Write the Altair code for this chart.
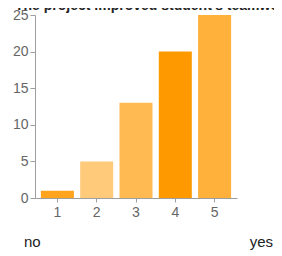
import altair as alt
import pandas as pd

ratings = ["1", "2", "3", "4", "5"]
counts = [1, 5, 13, 20, 25]
bar_colors = ["#FFA41C", "#FFCA7A", "#FFBA52", "#FF9900", "#FFB13B"]
y_ticks = [0, 5, 10, 15, 20, 25]
title_text = "The project improved student's teamwork"
end_labels = ["no", "yes"]

FONT = "Liberation Sans"

df = pd.DataFrame({"rating": ratings, "count": counts, "color": bar_colors})

bars = alt.Chart(df).mark_bar().encode(
    x=alt.X(
        "rating:O",
        sort=ratings,
        scale=alt.Scale(paddingInner=0.16, paddingOuter=0.15),
        axis=alt.Axis(title=None, labelAngle=0, tickSize=4, labelPadding=3),
    ),
    y=alt.Y(
        "count:Q",
        scale=alt.Scale(domain=[0, 25], nice=False),
        axis=alt.Axis(values=y_ticks, title=None, grid=False, tickSize=5, labelPadding=2),
    ),
    color=alt.Color("color:N", scale=None),
)

title = alt.Chart(pd.DataFrame({"t": [title_text]})).mark_text(
    align="left", baseline="alphabetic", fontSize=14, fontWeight="bold",
    color="#222222", font=FONT,
).encode(x=alt.value(-20), y=alt.value(-5), text="t:N")

no_lbl = alt.Chart(pd.DataFrame({"t": [end_labels[0]]})).mark_text(
    align="left", baseline="middle", fontSize=15, color="#222222", font=FONT,
).encode(x=alt.value(-11), y=alt.value(227), text="t:N")

yes_lbl = alt.Chart(pd.DataFrame({"t": [end_labels[1]]})).mark_text(
    align="right", baseline="middle", fontSize=15, color="#222222", font=FONT,
).encode(x=alt.value(238), y=alt.value(227), text="t:N")

chart = alt.layer(bars, title, no_lbl, yes_lbl).properties(
    width=202,
    height=183,
    autosize=alt.AutoSizeParams(type="none"),
    padding={"left": 27, "top": 7, "right": 37, "bottom": 54},
).configure_view(stroke=None).configure_axis(
    domainColor="#9e9e9e",
    tickColor="#9e9e9e",
    labelColor="#666666",
    labelFont=FONT,
    labelFontSize=14,
)

chart.save("out.html", embed_options={"renderer": "svg", "actions": False})
